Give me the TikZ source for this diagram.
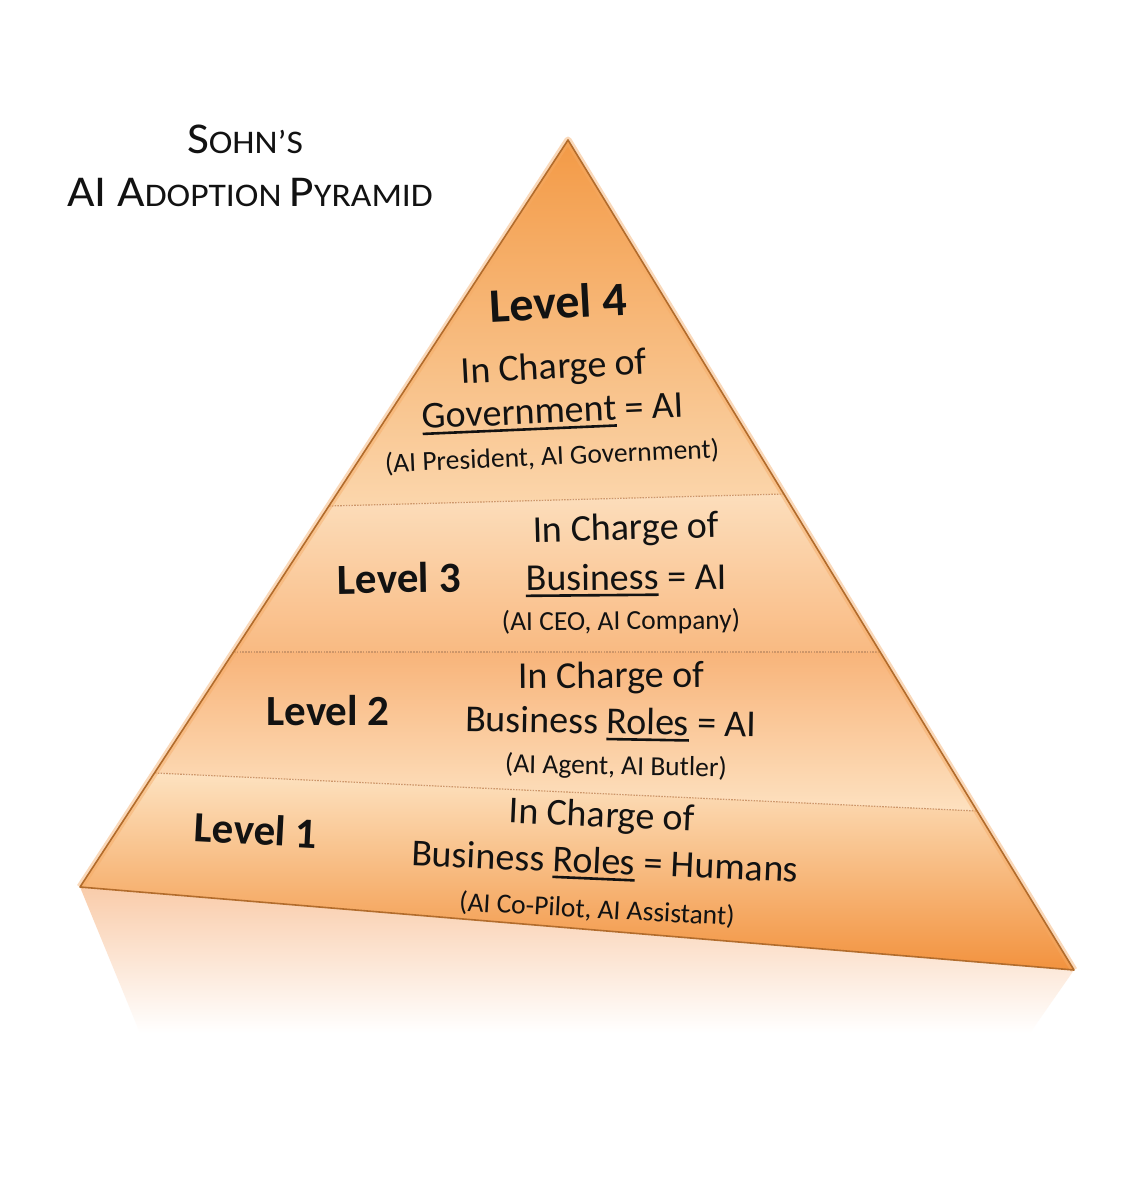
\documentclass[tikz,border=0pt]{standalone}
\usepackage{fontspec}
\setmainfont{Carlito}
\newfontfamily\titlefont[FakeStretch=1.08]{Carlito}
\usetikzlibrary{calc}
\definecolor{edgec}{RGB}{178,108,44}
\definecolor{glowc}{RGB}{245,170,100}
\definecolor{divc}{RGB}{205,150,105}
\definecolor{txt}{RGB}{18,18,18}
\definecolor{cfa}{RGB}{243,154,70}
\definecolor{cfb}{RGB}{251,214,172}
\definecolor{cta}{RGB}{252,222,188}
\definecolor{ctb}{RGB}{249,186,130}
\definecolor{csa}{RGB}{248,180,122}
\definecolor{csb}{RGB}{253,225,192}
\definecolor{coa}{RGB}{253,226,192}
\definecolor{cob}{RGB}{242,146,62}
\definecolor{refl}{RGB}{249,204,170}
\newcommand\myul[1]{\vtop{\hbox{#1}\kern3.5pt\hrule height 2.6pt}}
\newcommand\bigc{\fontsize{44}{50}\selectfont}
\newcommand\smc{\fontsize{33}{40}\selectfont}
\tikzset{
  lvl/.style={text=txt, font=\bfseries\fontsize{43}{48}\selectfont, inner sep=0pt},
  lvlbig/.style={lvl, font=\bfseries\fontsize{48}{54}\selectfont},
  charge/.style={text=txt, font=\fontsize{38}{44}\selectfont, inner sep=0pt},
  sub/.style={text=txt, font=\fontsize{27.5}{32}\selectfont, inner sep=0pt},
  ttl/.style={text=txt, font=\titlefont, inner sep=0pt, anchor=base},
  divider/.style={divc, line width=1.2pt, dash pattern=on 1.6pt off 1.2pt},
}
\begin{document}
\begin{tikzpicture}[x=1pt,y=-1pt]
\useasboundingbox[fill=white] (0,0) rectangle (1127,1200);
% corners
\coordinate (A) at (568,140);
\coordinate (BL) at (80,887);
\coordinate (BR) at (1074,970);
\coordinate (d1l) at (329,506);
\coordinate (d1r) at (784,494);
\coordinate (d2l) at (234,652);
\coordinate (d2r) at (880,652);
\coordinate (d3l) at (155,773);
\coordinate (d3r) at (977,811);
% reflection
\shade[top color=refl, bottom color=white] (BL) -- (BR) -- (1030,1033) -- (140,1033) -- cycle;
% bands
\shade[top color=cfa, bottom color=cfb] (A) -- (d1r) -- (d1l) -- cycle;
\shade[top color=cta, bottom color=ctb] (d1l) -- (d1r) -- (d2r) -- (d2l) -- cycle;
\shade[top color=csa, bottom color=csb] (d2l) -- (d2r) -- (d3r) -- (d3l) -- cycle;
\shade[top color=coa, bottom color=cob] (d3l) -- (d3r) -- (BR) -- (BL) -- cycle;
% dividers
\draw[divider] (d1l) -- (d1r);
\draw[divider] (d2l) -- (d2r);
\draw[divider] (d3l) -- (d3r);
% edges
\draw[glowc, line width=7pt, opacity=0.45, line join=round] (BL) -- (A) -- (BR);
\draw[edgec, line width=1.6pt, line join=round] (BL) -- (A) -- (BR) -- cycle;
% title
\node[ttl] (t1) at (245,153) {\bigc S\smc OHN’S};
\node[ttl] (t2) at (250,206) {\bigc AI A\smc DOPTION \bigc P\smc YRAMID};
% level 4
\node[lvlbig, rotate=3] (l4) at (558,302) {Level 4};
\node[charge, rotate=3] (l4a) at (554,369) {In Charge of};
\node[charge, rotate=2.5] (l4b) at (553,414) {\myul{Government} = AI};
\node[sub, rotate=2.5] (l4c) at (552,457) {(AI President, AI Government)};
% level 3
\node[lvl, rotate=1] (l3) at (399,578) {Level 3};
\node[charge, rotate=1.5] (l3a) at (626,530) {In Charge of};
\node[charge, rotate=0.5] (l3b) at (626,580) {\myul{Business} = AI};
\node[sub, rotate=0.5] (l3c) at (621,622) {(AI CEO, AI Company)};
% level 2
\node[lvl, rotate=0] (l2) at (328,711) {Level 2};
\node[charge, rotate=0.5] (l2a) at (611,678) {In Charge of};
\node[charge, rotate=-1] (l2b) at (611,724) {Business \myul{Roles} = AI};
\node[sub, rotate=-1] (l2c) at (616,767) {(AI Agent, AI Butler)};
% level 1
\node[lvl, rotate=-3] (l1) at (256,830) {Level 1};
\node[charge, rotate=-2.5] (l1a) at (602,817) {In Charge of};
\node[charge, rotate=-2.5] (l1b) at (605,864) {Business \myul{Roles} = Humans};
\node[sub, rotate=-3] (l1c) at (597,910) {(AI Co-Pilot, AI Assistant)};
\end{tikzpicture}
\end{document}
